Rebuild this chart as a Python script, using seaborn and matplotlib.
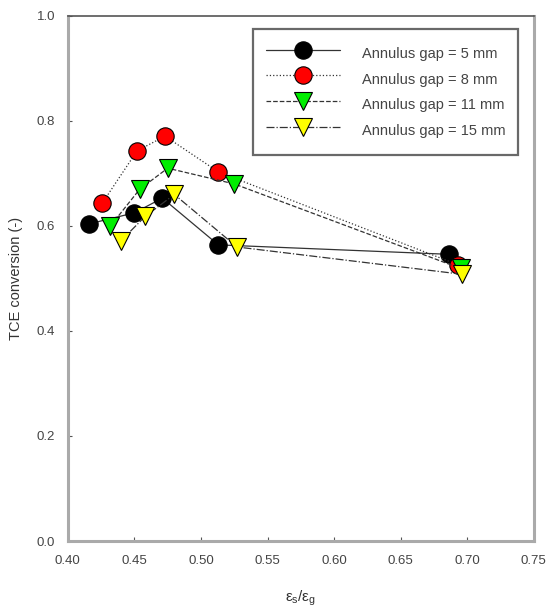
import numpy as np
import pandas as pd
import seaborn as sns
from matplotlib import pyplot as plt

# values
gaps = ["5 mm", "8 mm", "11 mm", "15 mm"]
x_5 = [0.416, 0.450, 0.471, 0.513, 0.686]
y_5 = [0.604, 0.625, 0.653, 0.564, 0.546]
x_8 = [0.426, 0.452, 0.473, 0.513, 0.693]
y_8 = [0.644, 0.743, 0.771, 0.703, 0.526]
x_11 = [0.432, 0.454, 0.475, 0.525, 0.695]
y_11 = [0.600, 0.670, 0.710, 0.680, 0.519]
x_15 = [0.440, 0.458, 0.480, 0.527, 0.696]
y_15 = [0.572, 0.618, 0.660, 0.560, 0.508]

xticks = [0.40, 0.45, 0.50, 0.55, 0.60, 0.65, 0.70, 0.75]
yticks = [0.0, 0.2, 0.4, 0.6, 0.8, 1.0]

sns.set_style("white")
plt.rcParams['font.family'] = ['Liberation Sans', 'DejaVu Sans']
plt.rcParams['mathtext.fontset'] = 'custom'
plt.rcParams['mathtext.rm'] = 'Liberation Sans'
plt.rcParams['mathtext.it'] = 'Liberation Sans'

series = [
    (x_5, y_5, "black", "o", "-"),
    (x_8, y_8, "red", "o", ":"),
    (x_11, y_11, "#00ee00", "v", "--"),
    (x_15, y_15, "yellow", "v", "-."),
]

fig = plt.figure(figsize=(5.47, 6.12), dpi=100)
ax = fig.add_axes([0.124, 0.116, 0.852, 0.858])

for gap, (xs, ys, col, mk, ls) in zip(gaps, series):
    df = pd.DataFrame({"x": xs, "y": ys})
    sns.lineplot(data=df, x="x", y="y", ax=ax, sort=False, estimator=None,
                 color="#333333", linestyle=ls, linewidth=0.9,
                 marker=mk, markersize=12.5, markerfacecolor=col,
                 markeredgecolor="black", markeredgewidth=0.8,
                 label="Annulus gap = " + gap)

ax.set_xlim(0.40, 0.75)
ax.set_ylim(0.0, 1.0)
ax.set_xticks(xticks)
ax.set_xticklabels([f"{t:.2f}" for t in xticks])
ax.set_yticks(yticks)
ax.set_yticklabels([f"{t:.1f}" for t in yticks])
ax.tick_params(direction="in", length=3, width=0.8, colors="#555555",
               labelsize=9.5, labelcolor="#444444")
ax.tick_params(axis="x", pad=10)
ax.tick_params(axis="y", pad=9)
ax.tick_params(top=False, right=False, bottom=True, left=True)

for side in ["left", "right", "bottom"]:
    ax.spines[side].set_color("#aaaaaa")
    ax.spines[side].set_linewidth(2.2)
ax.spines["top"].set_color("#555555")
ax.spines["top"].set_linewidth(1.2)

ax.set_xlabel(r"$\varepsilon_s/\varepsilon_g$", fontsize=11, color="#333333",
              labelpad=16)
ax.set_ylabel("TCE conversion (-)", fontsize=10.5, color="#333333",
              labelpad=10)

leg = ax.legend(loc="upper right", bbox_to_anchor=(0.966, 0.975),
                fontsize=10.5, frameon=True, fancybox=False, shadow=False,
                borderpad=0.85, handlelength=5.1, handleheight=2.2,
                labelspacing=0.08, handletextpad=1.5, borderaxespad=0.0)
leg.get_frame().set_edgecolor("#444444")
leg.get_frame().set_linewidth(1.6)
for t in leg.get_texts():
    t.set_color("#444444")

fig.savefig("out.png", dpi=100)
